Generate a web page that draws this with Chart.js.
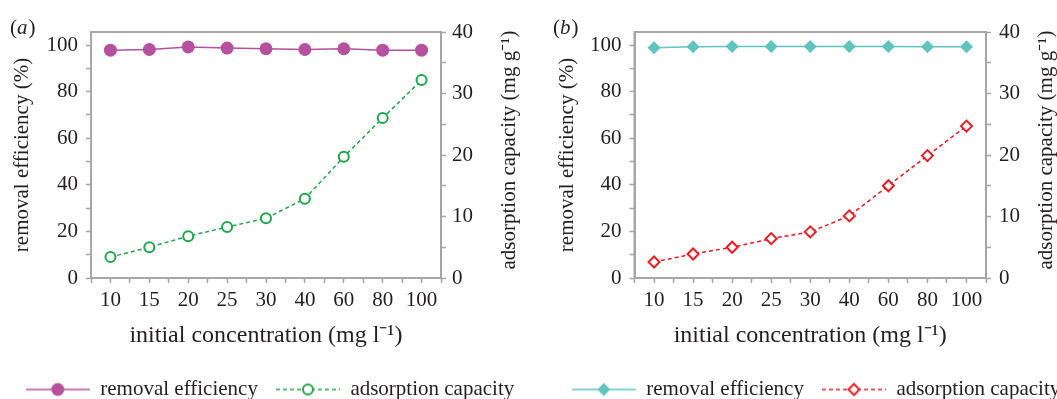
<!DOCTYPE html>
<html>
<head>
<meta charset="utf-8">
<script src="https://cdn.jsdelivr.net/npm/chart.js@4.4.0/dist/chart.umd.min.js"></script>
<style>
  html, body { margin: 0; padding: 0; background: #fff; overflow: hidden; width: 1057px; height: 399px; }
  #wrapA { position: absolute; left: -15px; top: 0; width: 570px; height: 410px; }
  #wrapB { position: absolute; left: 530px; top: 0; width: 564px; height: 410px; }
</style>
</head>
<body>
<div id="wrapA"><canvas id="chartA" width="570" height="410"></canvas></div>
<div id="wrapB"><canvas id="chartB" width="564" height="410"></canvas></div>
<script>
/* ============================================
   Removal efficiency / adsorption capacity vs initial concentration
   ============================================ */

const concentrations = ['10', '15', '20', '25', '30', '40', '60', '80', '100'];

// panel (a)
const removalA = [97.8, 98.1, 99.2, 98.7, 98.4, 98.1, 98.4, 97.8, 97.8];
const capacityA = [3.4, 5.0, 6.8, 8.3, 9.7, 12.9, 19.7, 26.0, 32.2];

// panel (b)
const removalB = [98.8, 99.3, 99.4, 99.4, 99.4, 99.4, 99.4, 99.3, 99.3];
const capacityB = [2.6, 3.9, 5.0, 6.4, 7.5, 10.1, 15.0, 19.9, 24.7];

// labelled ticks (minor ticks sit half way between)
const removalTicks = [0, 20, 40, 60, 80, 100];
const capacityTicks = [0, 10, 20, 30, 40];

const FONT = "'Liberation Serif', 'Times New Roman', serif";
const INK = '#231f20';
const GREY = '#a6a6a6';
const ICON_W = 64;

function withMinor(major) {
  const out = [];
  major.forEach((v, i) => {
    out.push(v);
    if (i < major.length - 1) out.push((v + major[i + 1]) / 2);
  });
  return out;
}

// category boundaries and centres both get a tick mark
const xTickValues = [];
for (let i = 0; i <= concentrations.length * 2; i++) xTickValues.push(i / 2 - 0.5);

// little line+marker pictures for the legend
function legendIcon(color, dashed, marker) {
  const c = document.createElement('canvas');
  c.width = ICON_W; c.height = 16;
  const g = c.getContext('2d');
  g.strokeStyle = color;
  g.lineWidth = 1.5;
  if (dashed) g.setLineDash([4, 3]);
  g.beginPath(); g.moveTo(0, 8); g.lineTo(ICON_W, 8); g.stroke();
  g.setLineDash([]);
  marker(g, ICON_W / 2, 8, color);
  return c;
}
const dot = (g, x, y, c) => { g.fillStyle = c; g.beginPath(); g.arc(x, y, 6.5, 0, Math.PI * 2); g.fill(); };
const ring = (g, x, y, c) => { g.fillStyle = '#fff'; g.strokeStyle = c; g.lineWidth = 2; g.beginPath(); g.arc(x, y, 5, 0, Math.PI * 2); g.fill(); g.stroke(); };
function diamondPath(g, x, y, r) { g.beginPath(); g.moveTo(x - r, y); g.lineTo(x, y - r); g.lineTo(x + r, y); g.lineTo(x, y + r); g.closePath(); }
const diamond = (g, x, y, c) => { g.fillStyle = c; diamondPath(g, x, y, 6.5); g.fill(); };
const openDiamond = (g, x, y, c) => { g.fillStyle = '#fff'; g.strokeStyle = c; g.lineWidth = 2; diamondPath(g, x, y, 5.5); g.fill(); g.stroke(); };

// plot frame on all four sides
const framePlugin = {
  id: 'frame',
  beforeDatasetsDraw(chart) {
    const { ctx, chartArea: a } = chart;
    ctx.save();
    ctx.strokeStyle = GREY;
    ctx.lineWidth = 2;
    ctx.strokeRect(a.left, a.top, a.width, a.height);
    ctx.restore();
  }
};

// panel tag "(a)" and right-hand axis title (reads bottom to top)
const panelText = {
  id: 'panelText',
  afterDraw(chart, args, o) {
    const ctx = chart.ctx;
    ctx.save();
    ctx.fillStyle = INK;
    ctx.textBaseline = 'middle';
    ctx.font = `21px ${FONT}`;
    let x = o.tagX;
    ctx.fillText('(', x, o.tagY);
    x += ctx.measureText('(').width;
    ctx.font = `italic 21px ${FONT}`;
    ctx.fillText(o.tag, x, o.tagY);
    x += ctx.measureText(o.tag).width + 1;
    ctx.font = `21px ${FONT}`;
    ctx.fillText(')', x, o.tagY);

    ctx.translate(o.titleX, o.titleY);
    ctx.rotate(-Math.PI / 2);
    ctx.textAlign = 'center';
    ctx.fillText('adsorption capacity (mg g\u207B\u00B9)', 0, 0);
    ctx.restore();
  }
};

function makePanel(id, cfg) {
  const textFont = { family: FONT, size: 21 };
  return new Chart(document.getElementById(id), {
    type: 'line',
    data: {
      datasets: [
        {
          label: 'removal efficiency',
          data: cfg.removal.map((v, i) => ({ x: i, y: v })),
          yAxisID: 'y',
          borderColor: cfg.c1,
          backgroundColor: cfg.c1,
          borderWidth: 1.5,
          pointStyle: cfg.p1,
          pointRadius: 6.5,
          pointBackgroundColor: cfg.c1,
          pointBorderColor: cfg.c1,
          pointBorderWidth: 0
        },
        {
          label: 'adsorption capacity',
          data: cfg.capacity.map((v, i) => ({ x: i, y: v })),
          yAxisID: 'y1',
          borderColor: cfg.c2,
          backgroundColor: '#fff',
          borderWidth: 1.5,
          borderDash: [4, 3],
          pointStyle: cfg.p2,
          pointRadius: cfg.r2,
          pointBackgroundColor: '#fff',
          pointBorderColor: cfg.c2,
          pointBorderWidth: 2
        }
      ]
    },
    options: {
      responsive: false,
      animation: false,
      events: [],
      layout: { padding: { top: 32, left: cfg.padLeft, right: 0, bottom: 0 } },
      scales: {
        x: {
          type: 'linear',
          min: -0.5,
          max: concentrations.length - 0.5,
          afterBuildTicks: s => { s.ticks = xTickValues.map(v => ({ value: v })); },
          afterFit: s => { s.height = s.chart.height - 278 - s.chart.legend.height; },
          grid: { drawOnChartArea: false, tickLength: 5, tickColor: GREY, tickWidth: 1.5 },
          border: { color: GREY, width: 2 },
          ticks: {
            autoSkip: false, maxRotation: 0, padding: 5, color: INK, font: textFont,
            callback: v => Number.isInteger(v) ? concentrations[v] : ''
          },
          title: {
            display: true, text: 'initial concentration (mg l\u207B\u00B9)', color: INK,
            font: { family: FONT, size: 24 },
            padding: { top: 0, bottom: 11 }
          }
        },
        y: {
          position: 'left',
          min: 0,
          max: 105.6,
          afterBuildTicks: s => { s.ticks = withMinor(removalTicks).map(v => ({ value: v })); },
          afterFit: s => { s.width = cfg.leftW; },
          grid: { drawOnChartArea: false, tickLength: 5, tickColor: GREY, tickWidth: 1.5 },
          border: { color: GREY, width: 2 },
          ticks: {
            autoSkip: false, padding: 8, color: INK, font: textFont,
            callback: v => removalTicks.includes(v) ? v : ''
          },
          title: {
            display: true, text: 'removal efficiency (%)', color: INK, font: textFont,
            padding: { top: cfg.leftTitlePad, bottom: 0 }
          }
        },
        y1: {
          position: 'right',
          min: 0,
          max: 40,
          afterBuildTicks: s => { s.ticks = withMinor(capacityTicks).map(v => ({ value: v })); },
          afterFit: s => { s.width = cfg.rightW; },
          grid: { drawOnChartArea: false, tickLength: 5, tickColor: GREY, tickWidth: 1.5 },
          border: { color: GREY, width: 2 },
          ticks: {
            autoSkip: false, padding: cfg.rightPad, color: INK, font: textFont,
            callback: v => capacityTicks.includes(v) ? v : ''
          }
        }
      },
      plugins: {
        tooltip: { enabled: false },
        legend: {
          position: 'bottom',
          labels: {
            usePointStyle: true,
            pointStyleWidth: ICON_W,
            padding: 18,
            color: INK,
            font: textFont,
            generateLabels: chart => {
              const items = Chart.defaults.plugins.legend.labels.generateLabels(chart);
              items.forEach((it, i) => { it.pointStyle = cfg.icons[i]; });
              return items;
            }
          }
        },
        panelText: { tag: cfg.tag, tagX: cfg.tagX, tagY: 28, titleX: cfg.titleX, titleY: 150 }
      }
    },
    plugins: [framePlugin, panelText]
  });
}

makePanel('chartA', {
  removal: removalA,
  capacity: capacityA,
  c1: '#b5519f', c2: '#1fa64a',
  p1: 'circle', p2: 'circle', r2: 5,
  icons: [legendIcon('#b5519f', false, dot), legendIcon('#1fa64a', true, ring)],
  padLeft: 0, leftW: 106, rightW: 114, rightPad: 6, leftTitlePad: 25,
  tag: 'a', tagX: 25, titleX: 524
});

makePanel('chartB', {
  removal: removalB,
  capacity: capacityB,
  c1: '#5ec4bd', c2: '#ec1c24',
  p1: 'rectRot', p2: 'rectRot', r2: 5.5,
  icons: [legendIcon('#5ec4bd', false, diamond), legendIcon('#ec1c24', true, openDiamond)],
  padLeft: 8, leftW: 96.5, rightW: 108, rightPad: 8, leftTitlePad: 17,
  tag: 'b', tagX: 23, titleX: 516
});
</script>
</body>
</html>
